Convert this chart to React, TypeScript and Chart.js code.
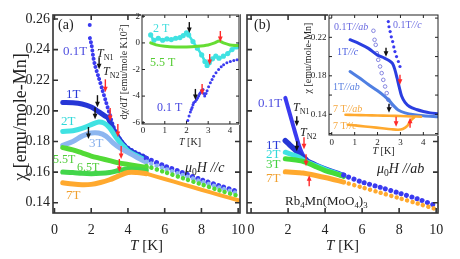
import React, { useEffect, useRef } from "react";
import { Chart, registerables } from "chart.js";

Chart.register(...registerables);

const W = 460;
const H = 259;
const SERIF = "'Liberation Serif', 'Times New Roman', serif";

// ===== Panel (a): mu0H // c, chi [emu/mole-Mn] vs T [K] =====
const A_01T_T = [1.92, 1.93, 2.02, 2.1, 2.2, 2.4, 2.6, 2.8, 3.0, 3.2, 3.4, 3.6, 3.8, 4.0, 4.5, 5.0];
const A_01T_CHI = [0.256, 0.2475, 0.243, 0.236, 0.23, 0.222, 0.214, 0.206, 0.198, 0.19, 0.185, 0.181, 0.178, 0.176, 0.1725, 0.17];
const A_1T_T = [0.45, 1.0, 1.5, 2.0, 2.4, 2.7, 2.9, 3.05, 3.2, 3.4, 3.6, 3.8, 4.0, 4.5, 5.0];
const A_1T_CHI = [0.2055, 0.2053, 0.2045, 0.2025, 0.1995, 0.197, 0.1955, 0.192, 0.188, 0.184, 0.1805, 0.1775, 0.175, 0.1715, 0.169];
const A_2T_T = [0.45, 1.0, 1.5, 2.0, 2.4, 2.7, 3.0, 3.2, 3.4, 3.6, 3.8, 4.0, 4.5, 5.0];
const A_2T_CHI = [0.1865, 0.187, 0.1885, 0.191, 0.1927, 0.192, 0.189, 0.1855, 0.182, 0.179, 0.1765, 0.174, 0.1705, 0.1675];
const A_3T_T = [0.45, 1.0, 1.5, 2.0, 2.4, 2.8, 3.2, 3.6, 4.0, 4.5, 5.0];
const A_3T_CHI = [0.1775, 0.18, 0.1835, 0.1855, 0.1855, 0.1835, 0.179, 0.1755, 0.173, 0.1695, 0.1665];
const A_HF_T = [0.45, 1.0, 1.5, 2.0, 2.5, 3.0, 3.5, 4.0, 4.5, 5.0];
const A_55T_CHI = [0.176, 0.1745, 0.1725, 0.1705, 0.169, 0.1675, 0.166, 0.165, 0.164, 0.163];
const A_65T_CHI = [0.16, 0.1597, 0.1592, 0.159, 0.1592, 0.1598, 0.161, 0.162, 0.1618, 0.161];
const A_7T_CHI = [0.153, 0.1522, 0.1518, 0.152, 0.1532, 0.155, 0.1575, 0.1597, 0.1597, 0.159];
const A_HI_T = [5, 6, 7, 8, 9, 10];
const A_HI_BLUE = [0.169, 0.164, 0.1595, 0.155, 0.151, 0.1472];
const A_HI_CYAN = [0.1668, 0.1622, 0.158, 0.1538, 0.1498, 0.146];
const A_HI_GREEN = [0.164, 0.16, 0.156, 0.152, 0.148, 0.1444];
const A_HI_ORANGE = [0.159, 0.1555, 0.152, 0.1485, 0.145, 0.1416];
const A_TN1_T = [2.43, 2.34, 2.21, 1.85];
const A_TN1_CHI = [0.2271, 0.2024, 0.1946, 0.1816];
const A_TN2_T = [2.77, 3.03, 3.45, 3.63, 3.53];
const A_TN2_CHI = [0.2121, 0.1933, 0.1829, 0.1686, 0.1601];

// ===== Panel (b): mu0H // ab =====
const B_01T_T = [1.85, 2.0, 2.2, 2.4, 2.6, 2.8, 3.0];
const B_01T_CHI = [0.2085, 0.202, 0.1935, 0.185, 0.177, 0.1712, 0.1685];
const B_1T_T = [1.85, 2.0, 2.2, 2.4, 2.6, 2.8, 3.0, 3.5, 4.0, 4.5, 5.0];
const B_1T_CHI = [0.1805, 0.1788, 0.1765, 0.1743, 0.172, 0.1695, 0.1675, 0.1645, 0.162, 0.1598, 0.1578];
const B_LT_T = [1.85, 2.2, 2.6, 2.8, 3.0, 3.5, 4.0, 4.5, 5.0];
const B_2T_CHI = [0.173, 0.1715, 0.1697, 0.1682, 0.1668, 0.1642, 0.1618, 0.1596, 0.1575];
const B_3T_CHI = [0.1687, 0.1682, 0.1675, 0.167, 0.1663, 0.1635, 0.161, 0.1592, 0.1572];
const B_7T_CHI = [0.1602, 0.1599, 0.1596, 0.1594, 0.159, 0.1578, 0.1565, 0.155, 0.1535];
const B_HI_T = [5, 6, 7, 8, 9, 10];
const B_HI_BLUE = [0.158, 0.1535, 0.15, 0.1463, 0.1425, 0.138];
const B_HI_ORANGE = [0.1535, 0.15, 0.1465, 0.143, 0.1395, 0.1358];
const B_TN1_T = [2.47, 2.47];
const B_TN1_CHI = [0.19, 0.1737];
const B_TN2_T = [2.86, 2.97];
const B_TN2_CHI = [0.175, 0.1639];
const B_TN2UP_T = [3.14];
const B_TN2UP_CHI = [0.158];

// ===== Inset (a): dchi/dT [emu/mole K 10^2] =====
const IA_2T_T = [0.35, 0.5, 0.7, 0.9, 1.1, 1.3, 1.5, 1.7, 1.85, 2.0, 2.1, 2.3, 2.5, 2.7, 2.85, 2.95, 3.05, 3.2, 3.35, 3.5, 3.7, 3.9, 4.1, 4.3, 4.42];
const IA_2T_V = [0.6, 0.2, 0.35, 0.2, 0.3, 0.25, 0.35, 0.4, 0.55, 0.75, 0.6, 0.1, -0.4, -0.9, -1.4, -1.7, -1.5, -1.2, -1.0, -1.15, -1.0, -0.8, -0.5, -0.3, -0.2];
const IA_55T_T = [0.35, 0.6, 1.0, 1.5, 2.0, 2.5, 3.0, 3.3, 3.5, 3.7, 4.0, 4.42];
const IA_55T_V = [0.0, -0.15, -0.25, -0.3, -0.3, -0.25, -0.15, 0.0, 0.15, 0.0, -0.15, -0.2];
const IA_01T_T = [2.06, 2.12, 2.18, 2.22, 2.26, 2.3, 2.33, 2.4, 2.46, 2.51, 2.56, 2.6, 2.64, 2.7, 2.76, 2.8, 2.84, 2.9, 2.95, 3.02, 3.1, 3.18, 3.25, 3.36, 3.48, 3.6, 3.71, 3.86, 4.02, 4.18, 4.33];
const IA_01T_V = [-5.84, -5.5, -5.2, -5.0, -4.85, -4.65, -4.5, -4.4, -4.27, -4.15, -4.0, -3.85, -3.75, -3.6, -3.5, -3.8, -4.0, -3.8, -3.6, -3.3, -3.0, -2.75, -2.5, -2.25, -2.0, -1.8, -1.65, -1.5, -1.4, -1.32, -1.27];
const IA_BLACK_T = [2.13, 2.41];
const IA_BLACK_V = [0.74, -4.29];
const IA_RED_T = [3.56, 3.07, 2.72];
const IA_RED_V = [0.07, -1.66, -3.92];

// ===== Inset (b): chi [emu/mole-Mn] vs T [K], both directions =====
const IB_01C_T = [2.47, 2.5, 2.55, 2.6, 2.66, 2.71, 2.76, 2.83, 2.91, 2.98];
const IB_01C_CHI = [0.2364, 0.231, 0.226, 0.2205, 0.2156, 0.21, 0.2052, 0.2, 0.1949, 0.1897];
const IB_01AB_T = [1.82, 1.87, 1.92, 1.97, 2.03, 2.11, 2.18, 2.25, 2.33, 2.4, 2.47, 2.55];
const IB_01AB_CHI = [0.2268, 0.2174, 0.2122, 0.2036, 0.1966, 0.1897, 0.1828, 0.1758, 0.1689, 0.162, 0.1551, 0.1481];
const IB_1C_T = [0.8, 1.2, 1.6, 2.0, 2.3, 2.5, 2.65, 2.75, 2.85, 2.95, 3.05, 3.2, 3.4, 3.7, 4.0, 4.3, 4.64];
const IB_1C_CHI = [0.2175, 0.2135, 0.2085, 0.2015, 0.1985, 0.196, 0.193, 0.187, 0.178, 0.168, 0.159, 0.1525, 0.148, 0.145, 0.143, 0.1415, 0.1405];
const IB_1AB_T = [0.8, 1.2, 1.6, 2.0, 2.3, 2.5, 2.7, 2.9, 3.2, 3.6, 4.0, 4.64];
const IB_1AB_CHI = [0.1845, 0.178, 0.171, 0.1645, 0.159, 0.1545, 0.149, 0.1445, 0.1415, 0.1395, 0.1385, 0.1375];
const IB_7AB_T = [0.6, 1.0, 1.5, 2.0, 2.5, 3.0, 3.5, 3.9];
const IB_7AB_CHI = [0.1395, 0.1393, 0.139, 0.1388, 0.1385, 0.1382, 0.1378, 0.1375];
const IB_7C_T = [0.7, 1.2, 1.7, 2.2, 2.6, 2.9, 3.1, 3.3, 3.45, 3.6];
const IB_7C_CHI = [0.1292, 0.128, 0.1268, 0.1255, 0.1245, 0.124, 0.1248, 0.128, 0.1335, 0.137];
const IB_BLACK_T = [2.37, 2.5];
const IB_BLACK_CHI = [0.1997, 0.1416];
const IB_RED_T = [2.98, 2.81];
const IB_RED_CHI = [0.1706, 0.127];
const IB_REDUP_T = [3.42];
const IB_REDUP_CHI = [0.1364];

// ===== Ticks =====
const MAIN_X_TICKS = [0, 2, 4, 6, 8, 10];
const MAIN_Y_TICKS = [0.14, 0.16, 0.18, 0.2, 0.22, 0.24, 0.26];
const IA_X_TICKS = [0, 1, 2, 3, 4];
const IA_Y_TICKS = [-6, -4, -2, 0, 2];
const IB_X_TICKS = [0, 1, 2, 3, 4];
const IB_Y_TICKS = [0.12, 0.14, 0.16, 0.18, 0.2, 0.22, 0.24];
const IB_Y_LABELED = [0.14, 0.18, 0.22];

// ===== Colours =====
const C_BLUE = "#3a3af0";
const C_BLUE1 = "#2636d6";
const C_CYAN = "#40e2e2";
const C_LBLUE = "#8cb6f0";
const C_GREEN = "#52da36";
const C_GREEN2 = "#42d64a";
const C_ORANGE = "#ffa92e";

type Pt = { x: number; y: number };
const pts = (xs: number[], ys: number[]): Pt[] => xs.map((x, i) => ({ x, y: ys[i] }));

function line(data: Pt[], color: string, width: number, extra: any = {}) {
  return {
    data,
    borderColor: color,
    backgroundColor: color,
    borderWidth: width,
    pointRadius: 0,
    tension: 0.3,
    borderCapStyle: "round",
    borderJoinStyle: "round",
    fill: false,
    ...extra,
  };
}
function dots(data: Pt[], color: string, size: number, gap: number) {
  return line(data, color, size, { borderDash: [0.01, gap] });
}
function scatter(data: Pt[], color: string, r: number, extra: any = {}) {
  return {
    data,
    showLine: false,
    pointRadius: r,
    pointBackgroundColor: color,
    pointBorderColor: color,
    pointBorderWidth: 0,
    ...extra,
  };
}

type Run = { t: string; it?: boolean; sub?: boolean; sup?: boolean };
type Txt = { x: number; y: number; size: number; color: string; runs: Run[]; align?: "left" | "center" | "right"; rot?: boolean };
type Arrow = { xs: number[]; ys: number[]; len: number; color: string; up?: boolean };

function drawRich(ctx: CanvasRenderingContext2D, tx: Txt) {
  const f = (r: Run) => `${r.it ? "italic " : ""}${r.sub || r.sup ? tx.size * 0.68 : tx.size}px ${SERIF}`;
  let w = 0;
  for (const r of tx.runs) {
    ctx.font = f(r);
    w += ctx.measureText(r.t).width;
  }
  ctx.save();
  ctx.translate(tx.x, tx.y);
  if (tx.rot) ctx.rotate(-Math.PI / 2);
  let cx = tx.align === "center" ? -w / 2 : tx.align === "right" ? -w : 0;
  ctx.fillStyle = tx.color;
  ctx.textBaseline = "alphabetic";
  ctx.textAlign = "left";
  for (const r of tx.runs) {
    ctx.font = f(r);
    const dy = r.sub ? tx.size * 0.22 : r.sup ? -tx.size * 0.38 : 0;
    ctx.fillText(r.t, cx, dy);
    cx += ctx.measureText(r.t).width;
  }
  ctx.restore();
}

function drawArrow(ctx: CanvasRenderingContext2D, x: number, yTip: number, len: number, color: string, up: boolean) {
  const dir = up ? -1 : 1;
  const head = 4;
  const yTail = yTip - dir * len;
  ctx.save();
  ctx.strokeStyle = color;
  ctx.fillStyle = color;
  ctx.lineWidth = 1.4;
  ctx.beginPath();
  ctx.moveTo(x, yTail);
  ctx.lineTo(x, yTip - dir * head);
  ctx.stroke();
  ctx.beginPath();
  ctx.moveTo(x, yTip);
  ctx.lineTo(x - 2.4, yTip - dir * 5.5);
  ctx.lineTo(x + 2.4, yTip - dir * 5.5);
  ctx.closePath();
  ctx.fill();
  ctx.restore();
}

type Frame = {
  lw: number;
  color: string;
  tl: number;
  xTicks: number[];
  yTicks: number[];
  fs: number;
  xLab?: number[];
  xLabOff: number;
  yLab?: number[];
  yLabOff: number;
  yFmt?: (v: number) => string;
};

type Panel = {
  area: { l: number; t: number; r: number; b: number };
  xr: [number, number];
  yr: [number, number];
  datasets: any[];
  white?: boolean;
  frame: Frame;
  arrows: Arrow[];
  texts: Txt[];
};

function build(canvas: HTMLCanvasElement, p: Panel) {
  return new Chart(canvas, {
    type: "line",
    data: { datasets: p.datasets },
    options: {
      animation: false,
      responsive: false,
      events: [],
      layout: { padding: { left: p.area.l, top: p.area.t, right: W - p.area.r, bottom: H - p.area.b } },
      scales: {
        x: { type: "linear", display: false, min: p.xr[0], max: p.xr[1] },
        y: { type: "linear", display: false, min: p.yr[0], max: p.yr[1] },
      },
      plugins: { legend: { display: false }, tooltip: { enabled: false } },
    } as any,
    plugins: [
      {
        id: "deco",
        beforeDatasetsDraw(chart: any) {
          if (!p.white) return;
          const a = chart.chartArea;
          const ctx = chart.ctx;
          ctx.save();
          ctx.fillStyle = "#ffffff";
          ctx.fillRect(a.left - 1, a.top - 1, a.right - a.left + 2, a.bottom - a.top + 2);
          ctx.restore();
        },
        afterDatasetsDraw(chart: any) {
          const ctx: CanvasRenderingContext2D = chart.ctx;
          const a = chart.chartArea;
          const xs = chart.scales.x;
          const ys = chart.scales.y;
          const fr = p.frame;
          ctx.save();
          ctx.strokeStyle = fr.color;
          ctx.lineWidth = fr.lw;
          ctx.strokeRect(a.left, a.top, a.right - a.left, a.bottom - a.top);
          ctx.beginPath();
          for (const v of fr.xTicks) {
            const px = xs.getPixelForValue(v);
            ctx.moveTo(px, a.bottom);
            ctx.lineTo(px, a.bottom - fr.tl);
            ctx.moveTo(px, a.top);
            ctx.lineTo(px, a.top + fr.tl);
          }
          for (const v of fr.yTicks) {
            const py = ys.getPixelForValue(v);
            ctx.moveTo(a.left, py);
            ctx.lineTo(a.left + fr.tl, py);
            ctx.moveTo(a.right, py);
            ctx.lineTo(a.right - fr.tl, py);
          }
          ctx.stroke();
          ctx.fillStyle = "#222";
          ctx.font = `${fr.fs}px ${SERIF}`;
          if (fr.xLab) {
            ctx.textAlign = "center";
            ctx.textBaseline = "alphabetic";
            for (const v of fr.xLab) ctx.fillText(String(v), xs.getPixelForValue(v), a.bottom + fr.xLabOff);
          }
          if (fr.yLab) {
            ctx.textAlign = "right";
            ctx.textBaseline = "middle";
            for (const v of fr.yLab) ctx.fillText(fr.yFmt ? fr.yFmt(v) : String(v), a.left - fr.yLabOff, ys.getPixelForValue(v));
          }
          ctx.restore();
          for (const ar of p.arrows) {
            ar.xs.forEach((xv, i) => drawArrow(ctx, xs.getPixelForValue(xv), ys.getPixelForValue(ar.ys[i]), ar.len, ar.color, !!ar.up));
          }
          for (const t of p.texts) drawRich(ctx, t);
        },
      },
    ],
  });
}

const TK: Run[] = [{ t: "T", it: true }, { t: " [K]" }];
const CHI_LABEL: Run[] = [{ t: "χ" }, { t: " [emu/mole-Mn]" }];

const panelA: Panel = {
  area: { l: 53, t: 15, r: 240, b: 213 },
  xr: [-0.08, 10.1],
  yr: [0.1333, 0.2626],
  datasets: [
    line(pts(A_HI_T, A_HI_ORANGE), C_ORANGE, 4),
    dots(pts(A_HI_T, A_HI_GREEN), C_GREEN, 4.5, 5.5),
    dots(pts(A_HI_T, A_HI_CYAN), C_LBLUE, 4.5, 5.5),
    dots(pts(A_HI_T, A_HI_BLUE), C_BLUE, 5, 5.5),
    line(pts(A_HF_T, A_7T_CHI), C_ORANGE, 5),
    line(pts(A_HF_T, A_65T_CHI), C_GREEN2, 5),
    line(pts(A_HF_T, A_55T_CHI), C_GREEN, 5),
    line(pts(A_3T_T, A_3T_CHI), C_LBLUE, 5),
    line(pts(A_2T_T, A_2T_CHI), C_CYAN, 5),
    line(pts(A_1T_T, A_1T_CHI), C_BLUE1, 5),
    dots(pts(A_01T_T.slice(1), A_01T_CHI.slice(1)), C_BLUE, 4, 4.2),
    scatter(pts(A_01T_T.slice(0, 1), A_01T_CHI.slice(0, 1)), C_BLUE, 2),
  ],
  frame: {
    lw: 1.6, color: "#333", tl: 5, xTicks: MAIN_X_TICKS, yTicks: MAIN_Y_TICKS, fs: 14,
    xLab: MAIN_X_TICKS, xLabOff: 21, yLab: MAIN_Y_TICKS, yLabOff: 3, yFmt: (v) => v.toFixed(2),
  },
  arrows: [
    { xs: A_TN1_T, ys: A_TN1_CHI, len: 12, color: "#111" },
    { xs: A_TN2_T, ys: A_TN2_CHI, len: 13, color: "#ff2a2a" },
  ],
  texts: [
    { x: 58, y: 29, size: 14, color: "#222", runs: [{ t: "(a)" }] },
    { x: 63, y: 55, size: 13, color: "#5050e0", runs: [{ t: "0.1T" }] },
    { x: 97, y: 57, size: 12, color: "#222", runs: [{ t: "T", it: true }, { t: "N1", sub: true }] },
    { x: 103, y: 75, size: 12, color: "#222", runs: [{ t: "T", it: true }, { t: "N2", sub: true }] },
    { x: 66, y: 98, size: 13, color: "#2a3ad8", runs: [{ t: "1T" }] },
    { x: 61, y: 125, size: 13, color: "#30d8d8", runs: [{ t: "2T" }] },
    { x: 89, y: 147, size: 13, color: "#88b0ec", runs: [{ t: "3T" }] },
    { x: 53, y: 163, size: 12, color: "#50cc3a", runs: [{ t: "5.5T" }] },
    { x: 77, y: 171, size: 12, color: "#50cc3a", runs: [{ t: "6.5T" }] },
    { x: 66, y: 199, size: 13, color: "#f0a030", runs: [{ t: "7T" }] },
    { x: 185, y: 172, size: 14, color: "#222", runs: [{ t: "μ", it: true }, { t: "0", sub: true }, { t: "H", it: true }, { t: " //c", it: true }] },
    { x: 146.5, y: 250, size: 15, color: "#222", runs: TK, align: "center" },
    { x: 26, y: 117, size: 18, color: "#222", runs: CHI_LABEL, align: "center", rot: true },
  ],
};

const panelB: Panel = {
  area: { l: 247, t: 15, r: 438, b: 213 },
  xr: [-0.22, 10.1],
  yr: [0.1333, 0.2626],
  datasets: [
    dots(pts(B_HI_T, B_HI_ORANGE), C_ORANGE, 4.5, 5.5),
    dots(pts(B_HI_T, B_HI_BLUE), C_BLUE, 5, 5.5),
    line(pts(B_LT_T, B_7T_CHI), C_ORANGE, 5),
    line(pts(B_LT_T, B_3T_CHI), "#44dc3a", 5),
    line(pts(B_LT_T, B_2T_CHI), C_CYAN, 5),
    line(pts(B_1T_T, B_1T_CHI), C_BLUE1, 5.5),
    line(pts(B_01T_T, B_01T_CHI), C_BLUE, 4),
  ],
  frame: {
    lw: 1.6, color: "#333", tl: 5, xTicks: MAIN_X_TICKS, yTicks: MAIN_Y_TICKS, fs: 14,
    xLab: MAIN_X_TICKS, xLabOff: 21, yLabOff: 3,
  },
  arrows: [
    { xs: B_TN1_T, ys: B_TN1_CHI, len: 10, color: "#111" },
    { xs: B_TN2_T, ys: B_TN2_CHI, len: 12, color: "#ff2a2a" },
    { xs: B_TN2UP_T, ys: B_TN2UP_CHI, len: 11, color: "#ff2a2a", up: true },
  ],
  texts: [
    { x: 254, y: 29, size: 14, color: "#222", runs: [{ t: "(b)" }] },
    { x: 258, y: 107, size: 13, color: "#5050e0", runs: [{ t: "0.1T" }] },
    { x: 293, y: 111, size: 12, color: "#222", runs: [{ t: "T", it: true }, { t: "N1", sub: true }] },
    { x: 300, y: 136, size: 12, color: "#222", runs: [{ t: "T", it: true }, { t: "N2", sub: true }] },
    { x: 266, y: 149, size: 13, color: "#2a3ad8", runs: [{ t: "1T" }] },
    { x: 266, y: 158, size: 13, color: "#30d8d8", runs: [{ t: "2T" }] },
    { x: 266, y: 168, size: 13, color: "#40d040", runs: [{ t: "3T" }] },
    { x: 266, y: 182, size: 13, color: "#f0a030", runs: [{ t: "7T" }] },
    { x: 377, y: 173, size: 14, color: "#222", runs: [{ t: "μ", it: true }, { t: "0", sub: true }, { t: "H", it: true }, { t: " //ab", it: true }] },
    {
      x: 285, y: 205, size: 13, color: "#222",
      runs: [{ t: "Rb" }, { t: "4", sub: true }, { t: "Mn(MoO" }, { t: "4", sub: true }, { t: ")" }, { t: "3", sub: true }],
    },
    { x: 342.5, y: 250, size: 15, color: "#222", runs: TK, align: "center" },
  ],
};

const insetA: Panel = {
  area: { l: 142, t: 15, r: 239, b: 124 },
  xr: [-0.05, 4.42],
  yr: [-6.1, 2.1],
  white: true,
  datasets: [
    line(pts(IA_55T_T, IA_55T_V), "#66dd33", 3, { tension: 0.2 }),
    line(pts(IA_2T_T, IA_2T_V), C_CYAN, 2.6, { tension: 0.2, pointRadius: 1.3 }),
    scatter(pts(IA_01T_T, IA_01T_V), "#3b3bf0", 1.5),
  ],
  frame: {
    lw: 1, color: "#222", tl: 3, xTicks: IA_X_TICKS, yTicks: IA_Y_TICKS, fs: 9,
    xLab: IA_X_TICKS, xLabOff: 9, yLab: IA_Y_TICKS, yLabOff: 2,
  },
  arrows: [
    { xs: IA_BLACK_T, ys: IA_BLACK_V, len: 11, color: "#111" },
    { xs: IA_RED_T, ys: IA_RED_V, len: 11, color: "#ff2a2a" },
  ],
  texts: [
    { x: 153, y: 32, size: 12, color: "#40dede", runs: [{ t: "2 T" }] },
    { x: 150, y: 66, size: 12, color: "#55cc33", runs: [{ t: "5.5 T" }] },
    { x: 157, y: 111, size: 12, color: "#4848e0", runs: [{ t: "0.1 T" }] },
    {
      x: 127, y: 72, size: 10, color: "#222", align: "center", rot: true,
      runs: [{ t: "dχ/d" }, { t: "T", it: true }, { t: " [emu/mole K10" }, { t: "2", sup: true }, { t: "]" }],
    },
    { x: 190, y: 145, size: 10, color: "#222", runs: TK, align: "center" },
  ],
};

const insetB: Panel = {
  area: { l: 329, t: 15, r: 438, b: 135 },
  xr: [-0.12, 4.64],
  yr: [0.1185, 0.2432],
  white: true,
  datasets: [
    line(pts(IB_7C_T, IB_7C_CHI), C_ORANGE, 2.6),
    line(pts(IB_7AB_T, IB_7AB_CHI), C_ORANGE, 2.6),
    line(pts(IB_1AB_T, IB_1AB_CHI), "#4f7fe2", 3),
    line(pts(IB_1C_T, IB_1C_CHI), "#2a3ee0", 3),
    scatter(pts(IB_01AB_T, IB_01AB_CHI), "#ffffff", 1.8, { pointBorderColor: "#7878dc", pointBorderWidth: 0.9 }),
    scatter(pts(IB_01C_T, IB_01C_CHI), "#3a3af0", 1.6),
  ],
  frame: {
    lw: 1, color: "#222", tl: 3, xTicks: IB_X_TICKS, yTicks: IB_Y_TICKS, fs: 9,
    xLab: IB_X_TICKS, xLabOff: 10, yLab: IB_Y_LABELED, yLabOff: 2.5, yFmt: (v) => v.toFixed(2),
  },
  arrows: [
    { xs: IB_BLACK_T, ys: IB_BLACK_CHI, len: 9, color: "#111" },
    { xs: IB_RED_T, ys: IB_RED_CHI, len: 10, color: "#ff2a2a" },
    { xs: IB_REDUP_T, ys: IB_REDUP_CHI, len: 10, color: "#ff2a2a", up: true },
  ],
  texts: [
    { x: 334, y: 30, size: 10, color: "#6a6ae0", runs: [{ t: "0.1T" }, { t: "//ab", it: true }] },
    { x: 393, y: 28, size: 10, color: "#6a6ae0", runs: [{ t: "0.1T" }, { t: "//c", it: true }] },
    { x: 337, y: 55, size: 10, color: "#4a5ee0", runs: [{ t: "1T" }, { t: "//c", it: true }] },
    { x: 333, y: 90, size: 10, color: "#5a80e0", runs: [{ t: "1T" }, { t: "//ab", it: true }] },
    { x: 333, y: 112, size: 10, color: "#f5a840", runs: [{ t: "7 T" }, { t: "//ab", it: true }] },
    { x: 333, y: 129, size: 10, color: "#f5a840", runs: [{ t: "7 T" }, { t: "//c", it: true }] },
    { x: 311, y: 58, size: 10, color: "#222", runs: CHI_LABEL, align: "center", rot: true },
    { x: 383.5, y: 154, size: 10, color: "#222", runs: TK, align: "center" },
  ],
};

export default function App() {
  const r1 = useRef<HTMLCanvasElement>(null);
  const r2 = useRef<HTMLCanvasElement>(null);
  const r3 = useRef<HTMLCanvasElement>(null);
  const r4 = useRef<HTMLCanvasElement>(null);

  useEffect(() => {
    const charts = [
      build(r1.current!, panelA),
      build(r2.current!, panelB),
      build(r3.current!, insetA),
      build(r4.current!, insetB),
    ];
    return () => charts.forEach((c) => c.destroy());
  }, []);

  const cs: React.CSSProperties = { position: "absolute", left: 0, top: 0, width: W, height: H };
  return (
    <div style={{ position: "fixed", left: 0, top: 0, width: W, height: H, background: "#fff" }}>
      <canvas ref={r1} width={W} height={H} style={cs} />
      <canvas ref={r2} width={W} height={H} style={cs} />
      <canvas ref={r3} width={W} height={H} style={cs} />
      <canvas ref={r4} width={W} height={H} style={cs} />
    </div>
  );
}
